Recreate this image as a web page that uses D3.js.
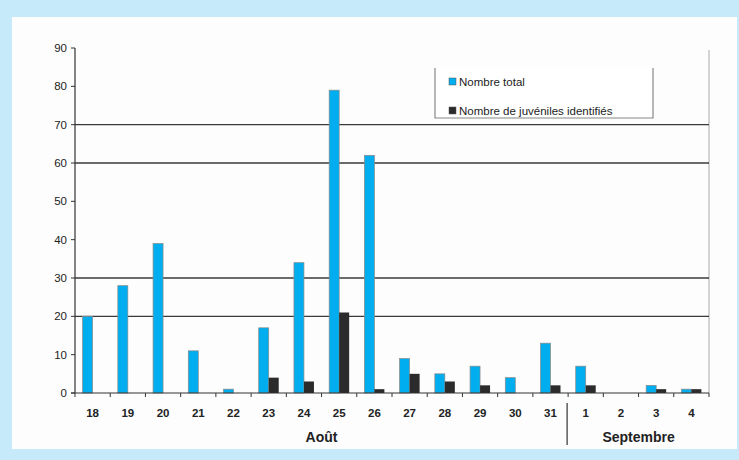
<!DOCTYPE html>
<html>
<head>
<meta charset="utf-8">
<script src="https://cdn.jsdelivr.net/npm/d3@7"></script>
<style>
  body { margin: 0; background: #c6eaf9; }
  svg { display: block; font-family: "Liberation Sans", Arial, sans-serif; }
</style>
</head>
<body>
<div class="chart"></div>
<script>
var days = ["18", "19", "20", "21", "22", "23", "24", "25", "26", "27", "28", "29", "30", "31", "1", "2", "3", "4"];
var total = [20, 28, 39, 11, 1, 17, 34, 79, 62, 9, 5, 7, 4, 13, 7, 0, 2, 1];
var juveniles = [0, 0, 0, 0, 0, 4, 3, 21, 1, 5, 3, 2, 0, 2, 2, 0, 1, 1];
var yTicks = [0, 10, 20, 30, 40, 50, 60, 70, 80, 90];
var gridValues = [20, 30, 60, 70];
var months = [{ name: "Août", from: "18", to: "31" }, { name: "Septembre", from: "1", to: "4" }];
var seriesNames = ["Nombre total", "Nombre de juvéniles identifiés"];
var colors = ["#00aeef", "#2b2b2b"];

var W = 739, H = 460;
var margin = { top: 48, left: 75, right: 30, bottom: 67 };
var width = 709 - margin.left,
    height = 393 - margin.top;

var svg = d3.select(".chart").append("svg")
    .attr("width", W)
    .attr("height", H);

// frame
svg.append("rect").attr("width", W).attr("height", H).attr("fill", "#c6eaf9");
svg.append("rect").attr("x", 12).attr("y", 17).attr("width", 725).attr("height", 432).attr("fill", "#fdfdfd");

var g = svg.append("g")
    .attr("transform", "translate(" + margin.left + "," + margin.top + ")");

var x = d3.scaleBand().domain(days).range([0, width]).paddingInner(0).paddingOuter(0);
var y = d3.scaleLinear().domain([0, 90]).range([height, 0]);
var xs = d3.scaleBand().domain([0, 1]).range([x.bandwidth() / 2 - 10, x.bandwidth() / 2 + 10]);

// right border
g.append("line")
    .attr("x1", width).attr("x2", width)
    .attr("y1", 2).attr("y2", height)
    .attr("stroke", "#aaa").attr("stroke-width", 1);

// grid lines
g.selectAll(".grid").data(gridValues).enter().append("line")
    .attr("x1", 0).attr("x2", width)
    .attr("y1", function (d) { return y(d); })
    .attr("y2", function (d) { return y(d); })
    .attr("stroke", "#3a3a3a").attr("stroke-width", 1.3);

// bars
var groups = g.selectAll(".day").data(days).enter().append("g")
    .attr("transform", function (d) { return "translate(" + x(d) + ",0)"; });

groups.append("rect")
    .attr("x", xs(0))
    .attr("width", xs.bandwidth())
    .attr("y", function (d, i) { return y(total[i]); })
    .attr("height", function (d, i) { return height - y(total[i]); })
    .attr("fill", colors[0])
    .attr("stroke", function (d, i) { return total[i] > 0 ? "#8a8a8a" : "none"; })
    .attr("stroke-width", 0.7);

groups.append("rect")
    .attr("x", xs(1))
    .attr("width", xs.bandwidth())
    .attr("y", function (d, i) { return y(juveniles[i]); })
    .attr("height", function (d, i) { return height - y(juveniles[i]); })
    .attr("fill", colors[1]);

// y axis
g.append("line").attr("x1", 0).attr("x2", 0).attr("y1", y(90)).attr("y2", height)
    .attr("stroke", "#333").attr("stroke-width", 1.2);
g.selectAll(".ytick").data(yTicks).enter().append("line")
    .attr("x1", -4).attr("x2", 0)
    .attr("y1", function (d) { return y(d); })
    .attr("y2", function (d) { return y(d); })
    .attr("stroke", "#333");
g.selectAll(".ylab").data(yTicks).enter().append("text")
    .attr("x", -8)
    .attr("y", function (d) { return y(d) + 4; })
    .attr("text-anchor", "end")
    .attr("font-size", 11.5)
    .attr("fill", "#222")
    .text(function (d) { return d; });

// x axis
g.append("line").attr("x1", -4).attr("x2", width).attr("y1", height).attr("y2", height)
    .attr("stroke", "#333").attr("stroke-width", 1.2);
g.selectAll(".xtick").data(days).enter().append("line")
    .attr("x1", function (d) { return x(d) + x.bandwidth(); })
    .attr("x2", function (d) { return x(d) + x.bandwidth(); })
    .attr("y1", height).attr("y2", height + 4)
    .attr("stroke", "#333");
g.append("line").attr("x1", 0).attr("x2", 0).attr("y1", height).attr("y2", height + 4)
    .attr("stroke", "#333");

g.selectAll(".xlab").data(days).enter().append("text")
    .attr("x", function (d) { return x(d) + x.bandwidth() / 2; })
    .attr("y", height + 24)
    .attr("text-anchor", "middle")
    .attr("font-size", 11.5)
    .attr("font-weight", "bold")
    .attr("fill", "#222")
    .text(function (d) { return d; });

// months
g.selectAll(".month").data(months).enter().append("text")
    .attr("x", function (d) { return (x(d.from) + x(d.to) + x.bandwidth()) / 2; })
    .attr("y", height + 49)
    .attr("text-anchor", "middle")
    .attr("font-size", 14)
    .attr("font-weight", "bold")
    .attr("fill", "#222")
    .text(function (d) { return d.name; });

var sep = x(months[1].from) - 1;
g.append("line").attr("x1", sep).attr("x2", sep)
    .attr("y1", height + 10).attr("y2", height + 52)
    .attr("stroke", "#333").attr("stroke-width", 1.2);

// legend
var lg = svg.append("g").attr("transform", "translate(435,68)");
lg.append("rect").attr("width", 218).attr("height", 50).attr("fill", "#fff");
lg.append("path").attr("d", "M0,0V50H218V0").attr("fill", "none").attr("stroke", "#888").attr("stroke-width", 1.2);
seriesNames.forEach(function (name, i) {
    var row = lg.append("g").attr("transform", "translate(14," + (10 + i * 29) + ")");
    row.append("rect").attr("width", 7).attr("height", 7).attr("fill", colors[i]).attr("stroke", "#555").attr("stroke-width", 0.5);
    row.append("text").attr("x", 10).attr("y", 7.5).attr("font-size", 11.5).attr("fill", "#222").text(name);
});
</script>
</body>
</html>
